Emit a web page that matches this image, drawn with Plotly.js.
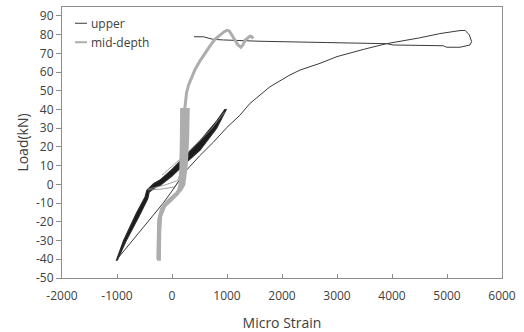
<!DOCTYPE html>
<html>
<head>
<meta charset="utf-8">
<script src="https://cdn.plot.ly/plotly-3.0.1.min.js"></script>
<style>html,body{margin:0;padding:0;background:#fff;}#chart{width:524px;height:332px;}</style>
</head>
<body>
<div id="chart"></div>
<script>
// ---- upper gauge: final loading envelope (thin line) ----
var upperEnvStrain = [-1000,-850,-600,-400,-160,0,236,500,750,1000,1236,1418,1600,1782,2145,2327,2691,3000,3500,3900,4500,4870,5236,5330,5406,5448,5418,5236,4994,4933,4024,3900,2812,2055,1600,933,751,569,400];
var upperEnvLoad   = [-40,-34.7,-25.8,-18.6,-10,-3.5,6.7,15.2,22.5,30.5,37,43.3,47.8,52.2,58.5,61.1,64.7,68.3,72.3,75.2,78.3,80.6,82.2,82.3,79.9,76.3,74.5,73.3,73.3,74.1,74.5,75.2,75.8,76,76.5,77.2,77.5,78.9,78.9];

// ---- upper gauge: overlapping load cycles (closed band) ----
var upperCycStrain = [-995,-840,-590,-440,-415,-300,-218,0,206,509,812,964,985,960,812,509,206,0,-218,-330,-455,-490,-650,-880,-1010,-995];
var upperCycLoad   = [-40.5,-30.5,-16.5,-7.5,-4,-1.5,-0.6,4.5,10.3,18.3,30,38.8,40,40,33.8,23.2,14.2,8,2.3,0.5,-3,-6.7,-15.5,-30,-40.5,-40.5];

// ---- upper gauge: unloading branches (thin) ----
var upperUnlStrain = [-440,-200,55,150,null,-440,-150,100,180,null,-180,300,700,950];
var upperUnlLoad   = [-3,-2.5,-1.3,3,null,-2.5,-0.5,2,8,null,5,17.5,29,38.5];

// ---- mid-depth gauge ----
var midStrain = [-258,-255,-242,-200,-100,40,120,145,160,170,175,
                 215,205,190,170,100,-20,-150,-215,-240,-245,
                 -228,-224,-205,-130,0,130,185,210,240,260,
                 295,285,260,215,160,50,-80,-190,-222,-232,
                 -244,-238,-215,-140,-30,110,170,195,205,215,
                 230,245,265,300,358,420,509,600,691,780,873,950,1000,1042,1085,1150,1200,1250,1290,1327,1380,1420,1448,1479];
var midLoad   = [-40,-28,-19,-14,-10,-6.5,-3,0,8,25,40,
                 40,25,8,-1,-5,-8.5,-12,-16,-24,-40,
                 -40,-26,-17,-11.5,-7,-4,0,10,28,40,
                 40,25,10,0,-3,-5.5,-9,-13,-20,-40,
                 -40,-24,-15.5,-11,-7.5,-4,-1,8,25,40,
                 40,45,49,53,57.5,61.5,66,70.2,74,77.5,80,81.6,82.3,82,80,77,74.5,73.3,74.5,77,78.5,79.2,79,78];

var legendNames = ['upper', 'mid-depth'];
var xTickVals = [-2000,-1000,0,1000,2000,3000,4000,5000,6000];
var yTickVals = [-50,-40,-30,-20,-10,0,10,20,30,40,50,60,70,80,90];

var traces = [
  {x: upperCycStrain, y: upperCycLoad, mode: 'lines', fill: 'toself', fillcolor: '#1c1c1c',
   line: {color: '#2a2a2a', width: 1.2}, showlegend: false, hoverinfo: 'skip'},
  {x: upperUnlStrain, y: upperUnlLoad, mode: 'lines', connectgaps: false,
   line: {color: '#8a8a8a', width: 0.8}, showlegend: false, hoverinfo: 'skip'},
  {x: upperEnvStrain, y: upperEnvLoad, mode: 'lines', name: legendNames[0],
   line: {color: '#3a3a3a', width: 1}, showlegend: false},
  {x: midStrain, y: midLoad, mode: 'lines', name: legendNames[1],
   line: {color: '#adadad', width: 3}, showlegend: false}
];

var fnt = {family: 'Open Sans, sans-serif', size: 12, color: '#404040'};
var layout = {
  width: 524, height: 332, autosize: false,
  margin: {l: 62, r: 22, t: 7, b: 54, pad: 0},
  paper_bgcolor: '#fff', plot_bgcolor: '#fff',
  font: fnt,
  xaxis: {range: [-2000, 6000], tickvals: xTickVals, ticktext: xTickVals.map(String),
          showgrid: false, zeroline: false, showline: true, linecolor: '#8c8c8c', linewidth: 1,
          mirror: true, ticks: 'inside', ticklen: 4, tickcolor: '#8c8c8c', ticklabelstandoff: 7,
          tickfont: fnt, title: {text: 'Micro Strain', font: {family: 'Open Sans, sans-serif', size: 14, color: '#404040'}, standoff: 14}},
  yaxis: {range: [-50, 94.8], tickvals: yTickVals, ticktext: yTickVals.map(String),
          showgrid: false, zeroline: false, showline: true, linecolor: '#8c8c8c', linewidth: 1,
          mirror: true, ticks: 'outside', ticklen: 5, tickcolor: '#8c8c8c',
          tickfont: fnt, title: {text: 'Load(kN)', font: {family: 'Open Sans, sans-serif', size: 14, color: '#404040'}, standoff: 4}},
  shapes: [
    {type: 'line', xref: 'paper', yref: 'paper', x0: 0.0295, x1: 0.0568, y0: 0.940, y1: 0.940, line: {color: '#3a3a3a', width: 1}},
    {type: 'line', xref: 'paper', yref: 'paper', x0: 0.0295, x1: 0.0568, y0: 0.870, y1: 0.870, line: {color: '#adadad', width: 2}}
  ],
  annotations: [
    {xref: 'paper', yref: 'paper', x: 0.0605, y: 0.940, xanchor: 'left', yanchor: 'middle', text: legendNames[0], showarrow: false, font: fnt},
    {xref: 'paper', yref: 'paper', x: 0.0605, y: 0.870, xanchor: 'left', yanchor: 'middle', text: legendNames[1], showarrow: false, font: fnt}
  ],
  showlegend: false
};
Plotly.newPlot('chart', traces, layout, {staticPlot: true, displayModeBar: false});
</script>
</body>
</html>
